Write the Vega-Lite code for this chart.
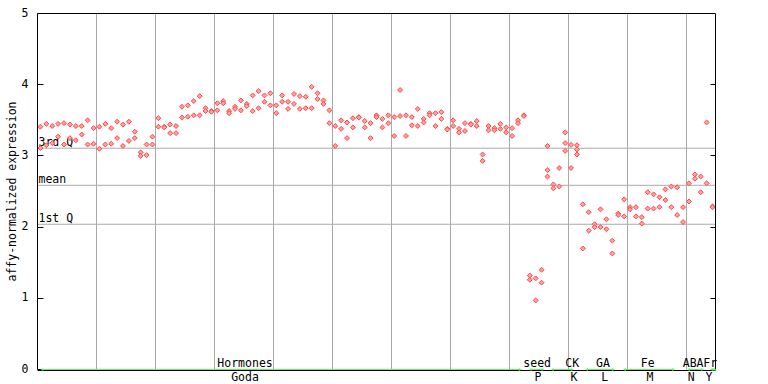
{
  "$schema": "https://vega.github.io/schema/vega-lite/v6.json",
  "width": 678,
  "height": 356,
  "autosize": {"type": "none"},
  "padding": {"left": 37.5, "top": 13.5, "right": 52.5, "bottom": 14.5},
  "background": "white",
  "config": {
    "view": {"stroke": null},
    "font": "DejaVu Sans Mono",
    "axis": {"labelFont": "DejaVu Sans Mono", "titleFont": "DejaVu Sans Mono", "labelColor": "black", "titleColor": "black", "tickColor": "black", "tickOpacity": 1, "tickWidth": 1, "translate": 0}
  },
  "datasets": {
    "one": [{}],
    "pts": [
      {"s":1,"v":3.41},{"s":1,"v":3.11},{"s":2,"v":3.45},{"s":2,"v":3.15},{"s":3,"v":3.42},{"s":3,"v":3.18},
      {"s":4,"v":3.45},{"s":4,"v":3.27},{"s":5,"v":3.46},{"s":5,"v":3.16},{"s":6,"v":3.44},{"s":6,"v":3.25},
      {"s":7,"v":3.42},{"s":7,"v":3.22},{"s":8,"v":3.42},{"s":8,"v":3.30},{"s":9,"v":3.50},{"s":9,"v":3.16},
      {"s":10,"v":3.39},{"s":10,"v":3.17},{"s":11,"v":3.41},{"s":11,"v":3.10},{"s":12,"v":3.45},{"s":12,"v":3.16},
      {"s":13,"v":3.39},{"s":13,"v":3.17},{"s":14,"v":3.48},{"s":14,"v":3.25},{"s":15,"v":3.44},{"s":15,"v":3.14},
      {"s":16,"v":3.48},{"s":16,"v":3.21},{"s":17,"v":3.34},{"s":17,"v":3.25},{"s":18,"v":3.05},{"s":18,"v":3.00},
      {"s":19,"v":3.16},{"s":19,"v":3.01},{"s":20,"v":3.27},{"s":20,"v":3.16},{"s":21,"v":3.53},{"s":21,"v":3.41},
      {"s":22,"v":3.41},{"s":22,"v":3.40},{"s":23,"v":3.44},{"s":23,"v":3.32},{"s":24,"v":3.42},{"s":24,"v":3.32},
      {"s":25,"v":3.69},{"s":25,"v":3.54},{"s":26,"v":3.71},{"s":26,"v":3.55},{"s":27,"v":3.77},{"s":27,"v":3.57},
      {"s":28,"v":3.84},{"s":28,"v":3.57},{"s":29,"v":3.67},{"s":29,"v":3.63},{"s":30,"v":3.63},{"s":30,"v":3.62},
      {"s":31,"v":3.74},{"s":31,"v":3.64},{"s":32,"v":3.77},{"s":32,"v":3.74},{"s":33,"v":3.63},{"s":33,"v":3.60},
      {"s":34,"v":3.69},{"s":34,"v":3.66},{"s":35,"v":3.78},{"s":35,"v":3.64},{"s":36,"v":3.73},{"s":36,"v":3.70},
      {"s":37,"v":3.85},{"s":37,"v":3.63},{"s":38,"v":3.91},{"s":38,"v":3.67},{"s":39,"v":3.85},{"s":39,"v":3.76},
      {"s":40,"v":3.88},{"s":40,"v":3.71},{"s":41,"v":3.71},{"s":41,"v":3.60},{"s":42,"v":3.85},{"s":42,"v":3.76},
      {"s":43,"v":3.76},{"s":43,"v":3.66},{"s":44,"v":3.87},{"s":44,"v":3.73},{"s":45,"v":3.84},{"s":45,"v":3.66},
      {"s":46,"v":3.83},{"s":46,"v":3.67},{"s":47,"v":3.97},{"s":47,"v":3.67},{"s":48,"v":3.88},{"s":48,"v":3.80},
      {"s":49,"v":3.78},{"s":49,"v":3.73},{"s":50,"v":3.64},{"s":50,"v":3.46},{"s":51,"v":3.42},{"s":51,"v":3.14},
      {"s":52,"v":3.50},{"s":52,"v":3.38},{"s":53,"v":3.47},{"s":53,"v":3.25},{"s":54,"v":3.53},{"s":54,"v":3.40},
      {"s":55,"v":3.545},{"s":55,"v":3.54},{"s":56,"v":3.49},{"s":56,"v":3.40},{"s":57,"v":3.46},{"s":57,"v":3.25},
      {"s":58,"v":3.57},{"s":58,"v":3.545},{"s":59,"v":3.52},{"s":59,"v":3.40},{"s":60,"v":3.57},{"s":60,"v":3.46},
      {"s":61,"v":3.545},{"s":61,"v":3.28},{"s":62,"v":3.925},{"s":62,"v":3.56},{"s":63,"v":3.57},{"s":63,"v":3.28},
      {"s":64,"v":3.545},{"s":64,"v":3.43},{"s":65,"v":3.66},{"s":65,"v":3.42},{"s":66,"v":3.52},{"s":66,"v":3.47},
      {"s":67,"v":3.60},{"s":67,"v":3.57},{"s":68,"v":3.60},{"s":68,"v":3.42},{"s":69,"v":3.615},{"s":69,"v":3.52},
      {"s":70,"v":3.38},{"s":70,"v":3.37},{"s":71,"v":3.50},{"s":71,"v":3.42},{"s":72,"v":3.38},{"s":72,"v":3.33},
      {"s":73,"v":3.46},{"s":73,"v":3.35},{"s":74,"v":3.45},{"s":74,"v":3.44},{"s":75,"v":3.49},{"s":75,"v":3.42},
      {"s":76,"v":3.02},{"s":76,"v":2.93},{"s":77,"v":3.42},{"s":77,"v":3.36},{"s":78,"v":3.39},{"s":78,"v":3.36},
      {"s":79,"v":3.45},{"s":79,"v":3.38},{"s":80,"v":3.40},{"s":80,"v":3.33},{"s":81,"v":3.39},{"s":81,"v":3.28},
      {"s":82,"v":3.50},{"s":82,"v":3.46},{"s":83,"v":3.57},{"s":83,"v":3.56},
      {"s":84,"v":1.32},{"s":84,"v":1.26},{"s":85,"v":1.28},{"s":85,"v":0.97},{"s":86,"v":1.40},{"s":86,"v":1.22},
      {"s":87,"v":3.14},{"s":87,"v":2.80},{"s":87,"v":2.71},{"s":88,"v":2.60},{"s":88,"v":2.545},
      {"s":89,"v":2.83},{"s":89,"v":2.57},{"s":90,"v":3.33},{"s":90,"v":3.18},{"s":90,"v":3.07},
      {"s":91,"v":3.155},{"s":91,"v":2.83},{"s":92,"v":3.15},{"s":92,"v":3.09},{"s":92,"v":3.02},
      {"s":93,"v":2.32},{"s":93,"v":1.70},{"s":94,"v":2.21},{"s":94,"v":1.95},{"s":95,"v":2.04},{"s":95,"v":2.00},
      {"s":96,"v":2.25},{"s":96,"v":2.00},{"s":97,"v":2.11},{"s":97,"v":1.97},{"s":98,"v":1.81},{"s":98,"v":1.63},
      {"s":99,"v":2.19},{"s":99,"v":2.17},{"s":100,"v":2.39},{"s":100,"v":2.15},{"s":101,"v":2.28},{"s":101,"v":2.25},
      {"s":102,"v":2.28},{"s":102,"v":2.15},{"s":103,"v":2.14},{"s":103,"v":2.05},{"s":104,"v":2.49},{"s":104,"v":2.26},
      {"s":105,"v":2.46},{"s":105,"v":2.26},{"s":106,"v":2.42},{"s":106,"v":2.28},{"s":107,"v":2.53},{"s":107,"v":2.38},
      {"s":108,"v":2.57},{"s":108,"v":2.28},{"s":109,"v":2.56},{"s":109,"v":2.17},{"s":110,"v":2.28},{"s":110,"v":2.07},
      {"s":111,"v":2.615},{"s":111,"v":2.36},{"s":112,"v":2.74},{"s":112,"v":2.68},{"s":113,"v":2.71},{"s":113,"v":2.49},
      {"s":114,"v":3.47},{"s":114,"v":2.615},{"s":115,"v":2.29},{"s":115,"v":2.28}
    ],
    "stats": [
      {"label": "3rd Q", "value": 3.108},
      {"label": "mean", "value": 2.587},
      {"label": "1st Q", "value": 2.04}
    ],
    "groups": [
      {"top": "Hormones", "bot": "Goda", "start": 1.25, "end": 82.4, "midT": 35.7, "midB": 35.7},
      {"top": "seed", "bot": "P", "start": 84.05, "end": 86.25, "midT": 85.25, "midB": 85.4},
      {"top": "CK", "bot": "K", "start": 87.8, "end": 91.2, "midT": 91.2, "midB": 91.5},
      {"top": "GA", "bot": "L", "start": 93.6, "end": 98.2, "midT": 96.4, "midB": 96.7},
      {"top": "Fe", "bot": "M", "start": 100.05, "end": 108.4, "midT": 104.0, "midB": 104.4},
      {"top": "ABA", "bot": "N", "start": 110.9, "end": 113.3, "midT": 111.7, "midB": 111.4},
      {"top": "Fr", "bot": "Y", "start": 114.8, "end": 115.4, "midT": 114.6, "midB": 114.4}
    ]
  },
  "resolve": {"axis": {"y": "independent", "x": "independent"}},
  "layer": [
    {
      "data": {"name": "stats"},
      "mark": {"type": "rule", "color": "#aaaaaa", "strokeWidth": 1},
      "encoding": {
        "y": {"field": "value", "type": "quantitative", "scale": {"domain": [0, 5], "nice": false, "zero": false},
          "axis": {"orient": "right", "values": [1, 2, 3, 4], "tickSize": 5, "labels": false, "domain": false, "grid": false, "title": null, "offset": -5}}
      }
    },
    {
      "data": {"name": "stats"},
      "mark": {"type": "text", "align": "left", "baseline": "alphabetic", "dx": 1, "dy": -2, "fontSize": 11.5, "font": "DejaVu Sans Mono", "color": "black"},
      "encoding": {
        "x": {"datum": 0.5, "type": "quantitative", "scale": {"domain": [0.5, 115.5], "nice": false, "zero": false}, "axis": null},
        "y": {"field": "value", "type": "quantitative", "axis": null},
        "text": {"field": "label"}
      }
    },
    {
      "data": {"name": "pts"},
      "mark": {"type": "point", "shape": "diamond", "size": 24, "filled": true, "fill": "#ffa0a0", "stroke": "#ff4848", "strokeWidth": 1, "opacity": 1},
      "encoding": {
        "x": {"field": "s", "type": "quantitative", "scale": {"domain": [0.5, 115.5], "nice": false, "zero": false},
          "axis": {"orient": "bottom", "values": [10.5, 20.5, 30.5, 40.5, 50.5, 60.5, 70.5, 80.5, 90.5, 100.5, 110.5], "grid": true, "gridColor": "#aaaaaa", "gridOpacity": 1, "ticks": false, "labels": false, "domain": false, "title": null}},
        "y": {"field": "v", "type": "quantitative", "scale": {"domain": [0, 5], "nice": false, "zero": false},
          "axis": {"orient": "left", "values": [0, 1, 2, 3, 4, 5], "tickSize": 6, "offset": -6, "labelPadding": 9, "labelFontSize": 11.5, "labelFlush": false, "labelOverlap": false, "domain": false, "grid": false,
            "title": "affy-normalized expression", "titleFontSize": 11.5, "titleFontWeight": "normal", "titleX": -28, "titleBaseline": "alphabetic"}}
      }
    },
    {
      "data": {"name": "one"},
      "mark": {"type": "rule", "color": "black", "strokeWidth": 1},
      "encoding": {"x": {"datum": 0.5, "type": "quantitative", "axis": null}}
    },
    {
      "data": {"name": "one"},
      "mark": {"type": "rule", "color": "black", "strokeWidth": 1},
      "encoding": {"x": {"datum": 115.5, "type": "quantitative", "axis": null}}
    },
    {
      "data": {"name": "one"},
      "mark": {"type": "rule", "color": "black", "strokeWidth": 1},
      "encoding": {"y": {"datum": 5, "type": "quantitative", "axis": null}}
    },
    {
      "data": {"name": "one"},
      "mark": {"type": "rule", "color": "black", "strokeWidth": 1, "yOffset": 1},
      "encoding": {"y": {"datum": 0, "type": "quantitative", "axis": null}}
    },
    {
      "data": {"name": "groups"},
      "mark": {"type": "rule", "color": "#4dff4d", "strokeWidth": 1},
      "encoding": {
        "x": {"field": "start", "type": "quantitative", "axis": null},
        "x2": {"field": "end"},
        "y": {"datum": 0, "type": "quantitative", "axis": null}
      }
    },
    {
      "data": {"name": "groups"},
      "mark": {"type": "point", "shape": "triangle-left", "size": 14, "filled": true, "color": "#4dff4d"},
      "encoding": {
        "x": {"field": "start", "type": "quantitative", "axis": null},
        "y": {"datum": 0, "type": "quantitative", "axis": null}
      }
    },
    {
      "data": {"name": "groups"},
      "mark": {"type": "point", "shape": "triangle-right", "size": 14, "filled": true, "color": "#4dff4d"},
      "encoding": {
        "x": {"field": "end", "type": "quantitative", "axis": null},
        "y": {"datum": 0, "type": "quantitative", "axis": null}
      }
    },
    {
      "data": {"name": "groups"},
      "mark": {"type": "text", "align": "center", "baseline": "alphabetic", "dy": -3, "fontSize": 11.5, "font": "DejaVu Sans Mono", "color": "black", "clip": false},
      "encoding": {
        "x": {"field": "midT", "type": "quantitative", "axis": null},
        "y": {"datum": 0, "type": "quantitative", "axis": null},
        "text": {"field": "top"}
      }
    },
    {
      "data": {"name": "groups"},
      "mark": {"type": "text", "align": "center", "baseline": "alphabetic", "dy": 11, "fontSize": 11.5, "font": "DejaVu Sans Mono", "color": "black", "clip": false},
      "encoding": {
        "x": {"field": "midB", "type": "quantitative", "axis": null},
        "y": {"datum": 0, "type": "quantitative", "axis": null},
        "text": {"field": "bot"}
      }
    }
  ]
}
